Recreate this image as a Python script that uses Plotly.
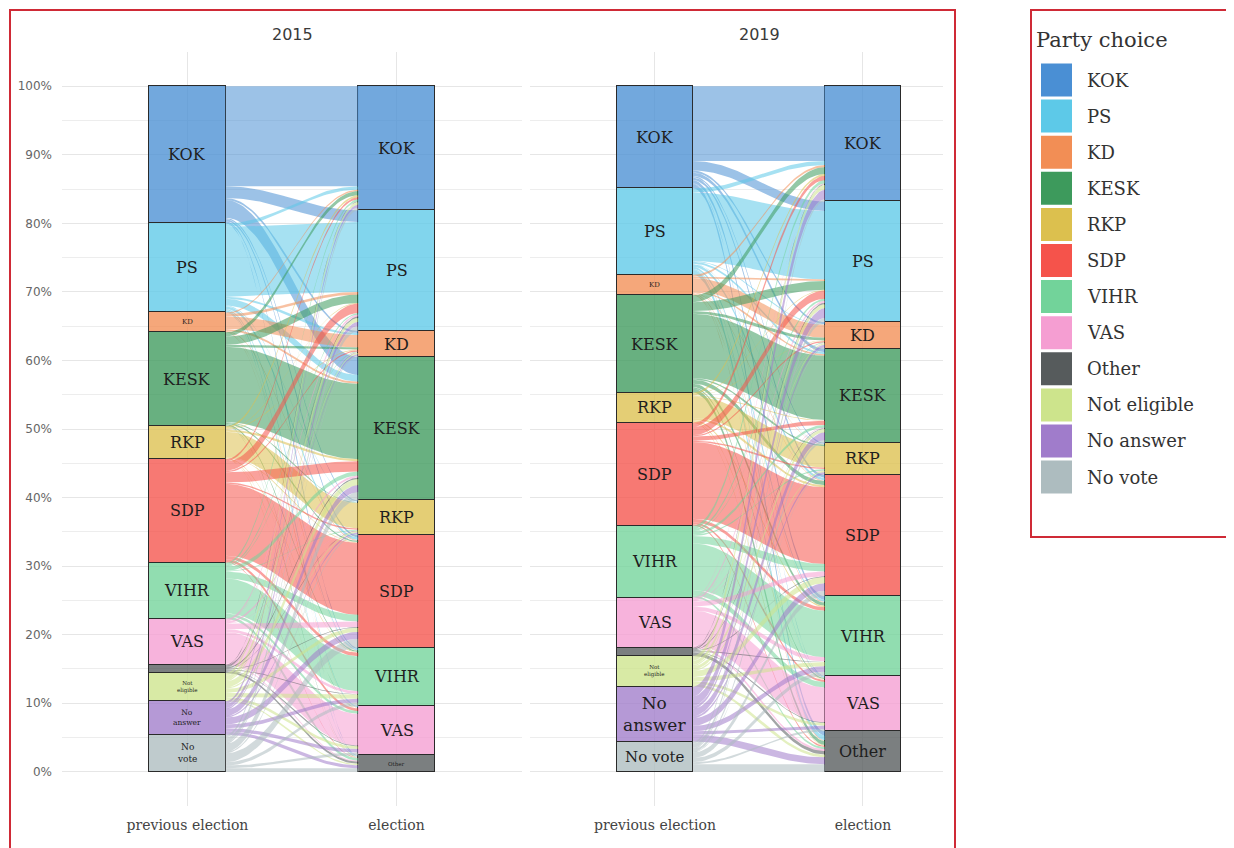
import numpy as np
import plotly.graph_objects as go

# ---------------- data ----------------
YEARS = ["2015", "2019"]
AXIS_LABELS = ["previous election", "election"]
PREV_PARTIES = ["KOK", "PS", "KD", "KESK", "RKP", "SDP", "VIHR", "VAS", "Other",
                "Not eligible", "No answer", "No vote"]
ELEC_PARTIES = ["KOK", "PS", "KD", "KESK", "RKP", "SDP", "VIHR", "VAS", "Other"]
LEGEND_ORDER = PREV_PARTIES
Y_TICKS = [0, 10, 20, 30, 40, 50, 60, 70, 80, 90, 100]
Y_TICK_LABELS = ["0%", "10%", "20%", "30%", "40%", "50%", "60%", "70%", "80%", "90%", "100%"]

# rows: choice at previous election, columns: choice at election (% of respondents)
FLOWS_2015 = [
    [14.6, 1.7, 0.3, 2.6, 0.2, 0.3, 0.2, 0.0, 0.1],      # KOK
    [0.5, 10.2, 0.3, 1.0, 0.1, 0.4, 0.2, 0.2, 0.1],      # PS
    [0.2, 0.4, 1.8, 0.3, 0.0, 0.1, 0.05, 0.05, 0.0],     # KD
    [0.6, 1.2, 0.3, 11.0, 0.1, 0.2, 0.2, 0.05, 0.05],    # KESK
    [0.3, 0.1, 0.1, 0.3, 3.7, 0.1, 0.1, 0.05, 0.05],     # RKP
    [0.3, 1.4, 0.2, 1.5, 0.2, 10.5, 0.5, 0.4, 0.1],      # SDP
    [0.3, 0.2, 0.1, 0.6, 0.1, 1.0, 5.1, 0.4, 0.4],       # VIHR
    [0.0, 0.3, 0.05, 0.3, 0.05, 0.8, 0.4, 4.65, 0.15],   # VAS
    [0.1, 0.2, 0.05, 0.2, 0.05, 0.1, 0.1, 0.1, 0.3],     # Other
    [0.4, 0.6, 0.2, 0.9, 0.2, 0.6, 0.6, 0.4, 0.2],       # Not eligible
    [0.4, 0.6, 0.2, 1.0, 0.2, 1.0, 0.55, 0.5, 0.45],     # No answer
    [0.4, 0.7, 0.2, 1.2, 0.2, 1.3, 0.5, 0.4, 0.5],       # No vote
]
FLOWS_2019 = [
    [10.9, 1.4, 0.3, 0.5, 0.2, 0.4, 0.5, 0.1, 0.6],      # KOK
    [0.6, 10.0, 0.1, 0.3, 0.05, 0.4, 0.3, 0.15, 0.7],    # PS
    [0.3, 0.2, 1.9, 0.2, 0.05, 0.1, 0.1, 0.05, 0.1],     # KD
    [1.0, 1.3, 0.4, 9.4, 0.2, 0.6, 0.5, 0.2, 0.6],       # KESK
    [0.3, 0.1, 0.05, 0.1, 3.15, 0.3, 0.2, 0.1, 0.1],     # RKP
    [0.6, 1.2, 0.2, 0.6, 0.2, 11.2, 0.5, 0.3, 0.2],      # SDP
    [0.5, 0.3, 0.1, 0.4, 0.2, 1.1, 6.8, 0.8, 0.3],       # VIHR
    [0.1, 0.3, 0.05, 0.1, 0.05, 0.7, 0.6, 5.1, 0.3],     # VAS
    [0.1, 0.2, 0.0, 0.1, 0.0, 0.1, 0.1, 0.1, 0.5],       # Other
    [0.7, 0.6, 0.2, 0.5, 0.2, 0.9, 0.6, 0.4, 0.4],       # Not eligible
    [1.4, 1.4, 0.4, 1.1, 0.3, 1.1, 0.8, 0.5, 1.0],       # No answer
    [0.3, 0.6, 0.2, 0.4, 0.1, 0.8, 0.6, 0.3, 1.1],       # No vote
]
FLOWS = {"2015": FLOWS_2015, "2019": FLOWS_2019}

# ---------------- style ----------------
PAGE_OFFSET = 8               # browser body margin
W, H = 1234 - PAGE_OFFSET, 848 - PAGE_OFFSET
COLORS = {
    "KOK": "#4a8fd4", "PS": "#5dc9e8", "KD": "#f28e55", "KESK": "#3d9a5c",
    "RKP": "#dcc04e", "SDP": "#f5534b", "VIHR": "#72d39a", "VAS": "#f59ed2",
    "Other": "#565b5c", "Not eligible": "#cde48c", "No answer": "#a07ccb",
    "No vote": "#adbcbf",
}
BAR_ALPHA = 0.78
FLOW_ALPHA = 0.55
BAR_W = 0.365
SERIF = "DejaVu Serif"
SANS = "DejaVu Sans"
DEFAULT_LABEL_SIZE = 16
# per-bar label overrides: party -> (font size, text) or None for no label
LABEL_STYLE = {
    ("2015", 0): {"KD": (7, "KD"), "Other": None, "Not eligible": (5.5, "Not<br>eligible"),
                  "No answer": (7.5, "No<br>answer"), "No vote": (9, "No<br>vote")},
    ("2015", 1): {"Other": (5.5, "Other")},
    ("2019", 0): {"KD": (7, "KD"), "Other": None, "Not eligible": (5.5, "Not<br>eligible"),
                  "No answer": (17, "No<br>answer"), "No vote": (15, "No vote")},
    ("2019", 1): {},
}
# panel placement in screen pixels
PANELS = [
    {"x0": 62, "x1": 522, "range": [0.4, 2.6], "title_x": 292},
    {"x0": 530, "x1": 943, "range": [0.399, 2.385], "title_x": 759},
]
PANEL_TOP, PANEL_BOTTOM = 52, 806


def rgba(hexc, a):
    h = hexc.lstrip("#")
    r, g, b = int(h[0:2], 16), int(h[2:4], 16), int(h[4:6], 16)
    return f"rgba({r},{g},{b},{a})"


def px(x):
    return (x - PAGE_OFFSET) / W


def py(y):
    return 1 - (y - PAGE_OFFSET) / H


fig = go.Figure()
annotations = []
shapes = []

for pi, year in enumerate(YEARS):
    xa = "x" if pi == 0 else "x2"
    ya = "y" if pi == 0 else "y2"
    M = np.array(FLOWS[year], dtype=float)
    M = M / M.sum() * 100.0
    prev_tot = M.sum(axis=1)
    elec_tot = M.sum(axis=0)
    prev_top = 100.0 - np.concatenate([[0], np.cumsum(prev_tot)[:-1]])
    elec_top = 100.0 - np.concatenate([[0], np.cumsum(elec_tot)[:-1]])

    xL = 1 + BAR_W / 2
    xR = 2 - BAR_W / 2
    dx = xR - xL
    t = np.linspace(0, 1, 50)
    k = 0.38
    bx = xL + dx * (3 * k * (1 - t) ** 2 * t + 3 * (1 - k) * (1 - t) * t ** 2 + t ** 3)
    s = 3 * t ** 2 - 2 * t ** 3

    # flows
    for i, p in enumerate(PREV_PARTIES):
        for j, e in enumerate(ELEC_PARTIES):
            v = M[i, j]
            if v <= 0:
                continue
            lt = prev_top[i] - M[i, :j].sum()
            lb = lt - v
            rt = elec_top[j] - M[:i, j].sum()
            rb = rt - v
            up = lt + (rt - lt) * s
            lo = lb + (rb - lb) * s
            xs = np.concatenate([bx, bx[::-1]])
            ys = np.concatenate([up, lo[::-1]])
            fig.add_trace(go.Scatter(
                x=xs, y=ys, xaxis=xa, yaxis=ya, mode="lines", fill="toself",
                fillcolor=rgba(COLORS[p], FLOW_ALPHA), line=dict(width=0),
                hoverinfo="skip", showlegend=False))

    # stacked strata (bottom first)
    for p in PREV_PARTIES[::-1]:
        xs, ys = [], []
        if p in PREV_PARTIES:
            xs.append(1)
            ys.append(prev_tot[PREV_PARTIES.index(p)])
        if p in ELEC_PARTIES:
            xs.append(2)
            ys.append(elec_tot[ELEC_PARTIES.index(p)])
        fig.add_trace(go.Bar(
            x=xs, y=ys, xaxis=xa, yaxis=ya, width=BAR_W, name=p,
            marker=dict(color=rgba(COLORS[p], BAR_ALPHA), line=dict(color="#2a2a2a", width=1.3)),
            hoverinfo="skip", showlegend=False))

    # stratum labels
    for ai, (parties, tops, tots) in enumerate([(PREV_PARTIES, prev_top, prev_tot),
                                                (ELEC_PARTIES, elec_top, elec_tot)]):
        style = LABEL_STYLE[(year, ai)]
        for idx, p in enumerate(parties):
            if p in style:
                if style[p] is None:
                    continue
                size, txt = style[p]
            else:
                size, txt = DEFAULT_LABEL_SIZE, p
            annotations.append(dict(
                x=ai + 1, y=tops[idx] - tots[idx] / 2, xref=xa, yref=ya,
                text=txt, showarrow=False, xanchor="center", yanchor="middle",
                font=dict(family=SERIF, size=size, color="#1e1e1e")))

    # facet title
    annotations.append(dict(
        x=px(PANELS[pi]["title_x"]), y=py(35), xref="paper", yref="paper",
        text=year, showarrow=False, xanchor="center", yanchor="middle",
        font=dict(family=SANS, size=16, color="#3a3a3a")))

ydom = [py(PANEL_BOTTOM), py(PANEL_TOP)]
axis_common_y = dict(
    range=[-5, 105], domain=ydom, tickvals=Y_TICKS, ticktext=Y_TICK_LABELS,
    showgrid=True, gridcolor="#e6e6e6", gridwidth=1, zeroline=False,
    minor=dict(dtick=5, tick0=0, showgrid=True, gridcolor="#ededed", gridwidth=1),
    ticks="", showline=False, fixedrange=True,
    tickfont=dict(family=SANS, size=12, color="#666666"), ticklabelstandoff=9)
axis_common_x = dict(
    tickvals=[1, 2], ticktext=AXIS_LABELS, showgrid=True, gridcolor="#e6e6e6",
    gridwidth=1, zeroline=False, ticks="", showline=False,
    tickfont=dict(family=SERIF, size=14, color="#444444"), ticklabelstandoff=9)

layout_axes = {}
for pi, pan in enumerate(PANELS):
    xk = "xaxis" if pi == 0 else "xaxis2"
    yk = "yaxis" if pi == 0 else "yaxis2"
    layout_axes[xk] = dict(axis_common_x, domain=[px(pan["x0"]), px(pan["x1"])],
                           range=pan["range"], anchor="y" if pi == 0 else "y2")
    yd = dict(axis_common_y, anchor="x" if pi == 0 else "x2")
    if pi == 1:
        yd["showticklabels"] = False
    layout_axes[yk] = yd

# frames
RED = "#cf2a36"
shapes.append(dict(type="rect", xref="paper", yref="paper",
                   x0=px(10), x1=px(955), y0=py(870), y1=py(10),
                   line=dict(color=RED, width=2), fillcolor="rgba(0,0,0,0)", layer="above"))
shapes.append(dict(type="rect", xref="paper", yref="paper",
                   x0=px(1031), x1=px(1245), y0=py(537), y1=py(10),
                   line=dict(color=RED, width=2), fillcolor="rgba(0,0,0,0)", layer="above"))

# legend (drawn manually to match large square keys)
annotations.append(dict(x=px(1034), y=py(40), xref="paper", yref="paper", text="Party choice",
                        showarrow=False, xanchor="left", yanchor="middle",
                        font=dict(family=SERIF, size=21, color="#333333")))
LEG_TOP, LEG_PITCH, LEG_H = 63.5, 36.1, 33
for k_, p in enumerate(LEGEND_ORDER):
    y0 = LEG_TOP + k_ * LEG_PITCH
    shapes.append(dict(type="rect", xref="paper", yref="paper",
                       x0=px(1041), x1=px(1072), y0=py(y0 + LEG_H), y1=py(y0),
                       line=dict(width=0), fillcolor=COLORS[p]))
    annotations.append(dict(x=px(1085), y=py(y0 + LEG_H / 2), xref="paper", yref="paper",
                            text=p, showarrow=False, xanchor="left", yanchor="middle",
                            font=dict(family=SERIF, size=18, color="#333333")))

fig.update_layout(
    width=W, height=H, margin=dict(l=0, r=0, t=0, b=0),
    paper_bgcolor="white", plot_bgcolor="white",
    barmode="stack", bargap=0, showlegend=False,
    annotations=annotations, shapes=shapes, **layout_axes)

fig.write_html("out.html")
